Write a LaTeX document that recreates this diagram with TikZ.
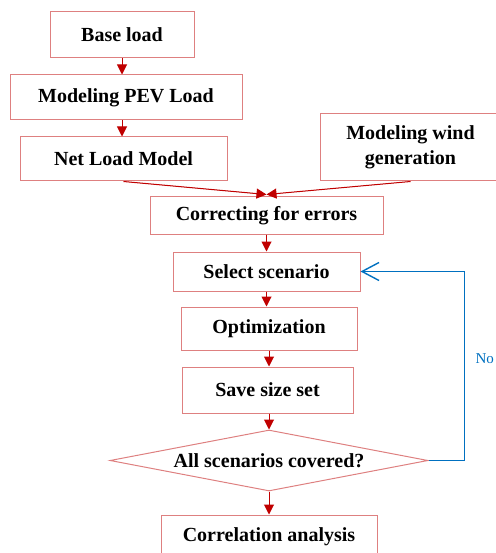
\documentclass[tikz,border=0pt]{standalone}
\usepackage{fontspec}
\setmainfont{Liberation Serif}
\usetikzlibrary{arrows.meta,positioning,shapes.geometric}

\definecolor{boxred}{RGB}{222,128,128}
\definecolor{arrowred}{RGB}{192,0,0}
\definecolor{loopblue}{RGB}{0,112,192}

\begin{document}
\begin{tikzpicture}[
    x=1pt, y=-1pt,
    font=\fontsize{20}{25}\selectfont\bfseries,
    box/.style={draw=boxred, line width=1pt, align=center, inner sep=0pt},
    decision/.style={box, diamond, aspect=5.2},
    arrow/.style={-{Triangle[length=10pt,width=10pt]}, draw=arrowred, fill=arrowred, line width=1pt},
    loopback/.style={-{Straight Barb[length=17pt,width=18pt]}, draw=loopblue, line width=1.4pt},
    nolabel/.style={font=\fontsize{15}{18}\selectfont, text=loopblue}
]
\useasboundingbox (0,0) rectangle (495,553);

\node[box, minimum width=144pt, minimum height=46pt] (base) at (122,35) {Base load};
\node[box, minimum width=232pt, minimum height=45pt, below=16pt of base, xshift=4pt] (pev) {Modeling PEV Load};
\node[box, minimum width=207pt, minimum height=44pt, below=16pt of pev, xshift=-2.5pt] (net) {Net Load Model};
\node[box, minimum width=181pt, minimum height=67pt, right=92pt of net.south east, anchor=south west] (wind)
    {Modeling wind\\generation};

\node[box, minimum width=233pt, minimum height=37pt] (errors) at (266.5,215.5) {Correcting for errors};
\node[box, minimum width=187pt, minimum height=39pt, below=17pt of errors] (select) {Select scenario};
\node[box, minimum width=176pt, minimum height=43pt, below=15pt of select, xshift=2.5pt] (optim) {Optimization};
\node[box, minimum width=171pt, minimum height=46pt, below=16pt of optim, xshift=-1.5pt] (save) {Save size set};
\node[decision, minimum width=318pt, minimum height=61pt, below=16pt of save, xshift=1.5pt] (covered)
    {All scenarios covered?};
\node[box, minimum width=216pt, minimum height=44pt, below=23pt of covered] (correl) {Correlation analysis};

\draw[arrow] (base.south) -- (base.south |- pev.north);
\draw[arrow] (base.south |- pev.south) -- (base.south |- net.north);
\draw[arrow] (net.south) -- ([yshift=2pt]errors.north);
\draw[arrow] (wind.south) -- ([yshift=2pt]errors.north);
\draw[arrow] (errors.south) -- (errors.south |- select.north);
\draw[arrow] (select.south) -- (select.south |- optim.north);
\draw[arrow] (optim.south) -- (optim.south |- save.north);
\draw[arrow] (save.south -| covered.north) -- (covered.north);
\draw[arrow] (covered.south) -- (covered.south |- correl.north);

\draw[loopback] (covered.east) -- ++(36,0) |- node[nolabel, pos=0.27, right=7pt] (no) {No} (select.east);

\end{tikzpicture}
\end{document}
